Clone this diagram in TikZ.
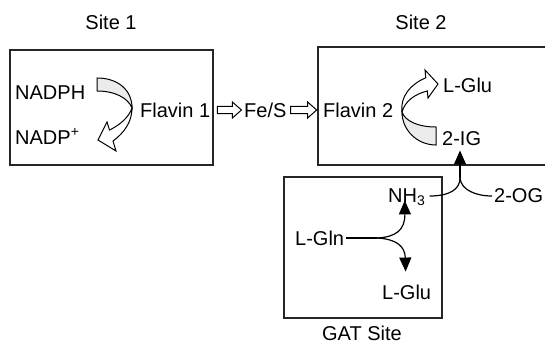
\documentclass[tikz,border=0pt]{standalone}
\usepackage{fontspec}
\setmainfont{Liberation Sans}
\usepackage{tikz}
\usetikzlibrary{arrows.meta,positioning,calc}

\begin{document}
\begin{tikzpicture}[x=1pt,y=-1pt,
  lab/.style={font=\fontsize{20}{24}\selectfont,inner sep=0pt,text height=14.5pt,text depth=0pt},
  bx/.style={draw=black!85,line width=1.1pt},
  ln/.style={line width=1.2pt},
  tip/.style={-{Triangle[width=12pt,length=14pt]}},
  har/.style={draw,line width=1pt,fill=white,line join=miter},
  shd/.style={draw,line width=1pt,fill=black!8}]
\useasboundingbox (0,0) rectangle (545,350);
\draw[bx] (10,50) rectangle (213,165);
\draw[bx] (545,47) -| (318,165) -- (545,165);
\draw[bx] (284,177) rectangle (442,318);
\node[lab] (s1) at (111,22) {Site 1};
\node[lab] (s2) at (421,22) {Site 2};
\node[lab] (gat) at (362,333) {GAT Site};
\node[lab,anchor=west] (nadph) at (15,92) {NADPH};
\node[lab,anchor=west] (nadp) at (15,137) {NADP\textsuperscript{+}};
\node[lab,anchor=west] (fl1) at (140,110) {Flavin 1};
\node[lab,anchor=west] (fes) at (244,110) {Fe/S};
\node[lab,anchor=west] (fl2) at (323,110) {Flavin 2};
\node[lab,anchor=west] (glu1) at (443,85) {L-Glu};
\node[lab,anchor=west] (ig) at (442,138) {2-IG};
\node[lab,anchor=west] (nh3) at (388,195) {NH\textsubscript{3}};
\node[lab,anchor=west] (og) at (494,195) {2-OG};
\node[lab,anchor=west] (gln) at (295,238) {L-Gln};
\node[lab,anchor=west] (glu2) at (382,292) {L-Glu};
\draw[shd] (97,78) .. controls (118,78) and (132,90) .. (132,108) .. controls (128,98) and (115,91) .. (97,91) -- cycle;
\draw[har] (132,108) .. controls (132,122) and (124,133) .. (113,141) -- (116,151) -- (98,140) -- (107,122) -- (109.5,130) .. controls (120,125) and (129,117) .. (132,108) -- cycle;
\draw[shd] (436,127) .. controls (418,127) and (405,121) .. (402,112) .. controls (402,130) and (417,145) .. (436,145) -- cycle;
\draw[har] (402,112) .. controls (400,96) and (411,84) .. (425.8,77.8) -- (425,70) -- (438,84) -- (428,98) -- (427.3,91) .. controls (415,94) and (405,101) .. (402,112) -- cycle;
\draw[har] (fl1.east) ++(7,-3.7) -- ++(15,0) -- ++(0,-4.3) -- ++(9,8) -- ++(-9,8) -- ++(0,-4.3) -- ++(-15,0) -- cycle;
\draw[har] (fes.east) ++(4,-3.7) -- ++(17,0) -- ++(0,-4.3) -- ++(9,8) -- ++(-9,8) -- ++(0,-4.3) -- ++(-17,0) -- cycle;
\coordinate (fork) at (377,238);
\coordinate (jn) at (460,178);
\draw[ln] ($(gln.east)+(2,0)$) -- (fork);
\draw[ln,tip] (fork) .. controls (396,237) and (405,230) .. ($(nh3.south)+(-2,-2)$);
\draw[ln,tip] (fork) .. controls (396,239) and (405,246) .. ($(glu2.north)+(-1,-13)$);
\draw[ln] ($(nh3.east)+(4,1)$) .. controls (450,196) and (460,189) .. (jn);
\draw[ln] (jn) .. controls (461,190) and (476,196) .. ($(og.west)+(-2,1)$);
\draw[ln,tip] (jn) -- ($(jn |- ig.south)+(0,5)$);
\end{tikzpicture}
\end{document}
